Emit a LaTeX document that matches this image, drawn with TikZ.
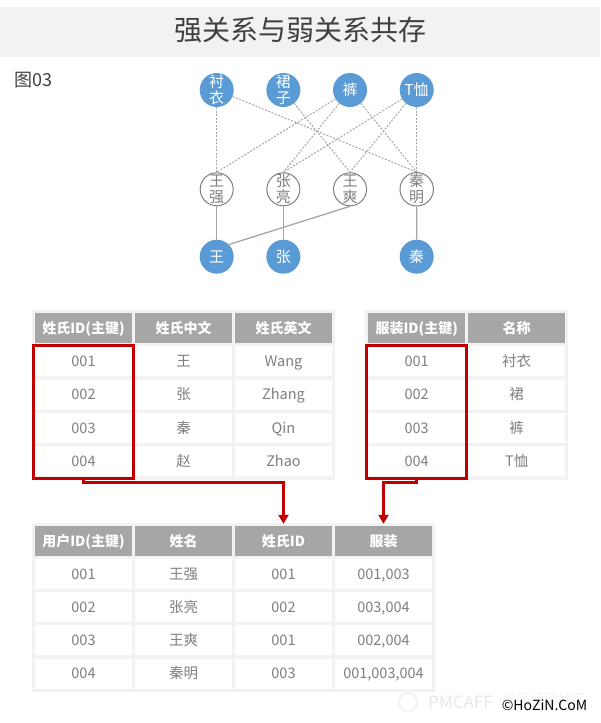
\documentclass[tikz,border=0pt]{standalone}
\usepackage{fontspec}
\setmainfont{Noto Sans CJK SC}
\usetikzlibrary{arrows.meta}
\definecolor{bandgray}{HTML}{F2F2F2}
\definecolor{headgray}{HTML}{A6A6A6}
\definecolor{textgray}{HTML}{7F7F7F}
\definecolor{titlegray}{HTML}{404040}
\definecolor{bluefill}{HTML}{5B9BD5}
\definecolor{keyred}{HTML}{C00000}
\begin{document}
\begin{tikzpicture}
[x=1pt,y=-1pt,node distance=100pt,
tabbg/.style={shape=rectangle,fill=bandgray,inner sep=0pt,outer sep=0pt},
headcell/.style={shape=rectangle,fill=headgray,text=white,font=\fontsize{14}{16}\selectfont\bfseries,minimum width=97pt,minimum height=30pt,inner sep=0pt,text height=12pt,text depth=1.4pt},
bodycell/.style={shape=rectangle,fill=white,text=textgray,font=\fontsize{14.5}{16}\selectfont,minimum width=97pt,minimum height=30pt,inner sep=0pt,text height=12pt,text depth=1.4pt},
keyframe/.style={shape=rectangle,draw=keyred,line width=3pt,minimum width=100pt,minimum height=133pt,inner sep=0pt,outer sep=0pt},
bluevertex/.style={shape=circle,fill=bluefill,text=white,minimum size=34pt,inner sep=0pt,node distance=66.67pt,align=center,font=\fontsize{15}{17}\selectfont},
uservertex/.style={shape=circle,draw=textgray,line width=1pt,fill=white,text=textgray,minimum size=33pt,inner sep=0pt,node distance=66.67pt,align=center,font=\fontsize{15}{17}\selectfont},
weakedge/.style={dashed,dash pattern=on 2pt off 1.5pt,draw=headgray,line width=1pt},
strongedge/.style={draw=headgray,line width=1.3pt},
keyedge/.style={draw=keyred,line width=3pt,-{Triangle[width=10pt,length=9pt]},shorten >=2pt}]
\useasboundingbox (0,0) rectangle (600,723);
%% title
\node (band) [shape=rectangle,fill=bandgray,minimum width=600pt,minimum height=50pt,inner sep=0pt] at (300,32) {};
\node (title) [text=titlegray,font=\fontsize{28}{30}\selectfont] at (300,30) {强关系与弱关系共存};
\node (fig) [text=titlegray,font=\fontsize{18}{20}\selectfont] at (33.5,80) {图03};
%% clothes
\node (cy) [bluevertex] at (216.7,90) {衬\\[-1pt]衣};
\node (qz) [bluevertex,right of=cy] {裙\\[-1pt]子};
\node (ku) [bluevertex,right of=qz] {裤};
\node (tx) [bluevertex,right of=ku] {T恤};
%% users
\node (wq) [uservertex] at (216.7,189.3) {王\\[-1pt]强};
\node (zl) [uservertex,right of=wq] {张\\[-1pt]亮};
\node (ws) [uservertex,right of=zl] {王\\[-1pt]爽};
\node (qm) [uservertex,right of=ws] {秦\\[-1pt]明};
%% surnames
\node (wang) [bluevertex] at (216.7,256.7) {王};
\node (zhang) [bluevertex,right of=wang] {张};
\node (qin) [bluevertex] at (416.7,256.7) {秦};
%%
\draw[weakedge] (cy) -- (wq.north);
\draw[weakedge] (cy) -- (qm.north);
\draw[weakedge] (qz) -- (ws.north);
\draw[weakedge] (ku) -- (wq.north);
\draw[weakedge] (ku) -- (zl.north);
\draw[weakedge] (ku) -- (qm.north);
\draw[weakedge] (tx) -- (zl.north);
\draw[weakedge] (tx) -- (ws.north);
\draw[weakedge] (tx) -- (qm.north);
\draw[strongedge] (wq) -- (wang);
\draw[strongedge] (zl) -- (zhang);
\draw[strongedge] (qm) -- (qin);
\draw[strongedge] (ws.south) -- (wang.north east);
%% surname table
\node (bga) [tabbg,minimum width=303pt,minimum height=170pt] at (183.5,395) {};
\node (a11) [headcell] at (83.5,328) {姓氏ID(主键)};
\node (a12) [headcell,right of=a11] {姓氏中文};
\node (a13) [headcell,right of=a12] {姓氏英文};
\node (a21) [bodycell] at (83.5,361) {001};
\node (a22) [bodycell,right of=a21] {王};
\node (a23) [bodycell,right of=a22] {Wang};
\node (a31) [bodycell] at (83.5,394.5) {002};
\node (a32) [bodycell,right of=a31] {张};
\node (a33) [bodycell,right of=a32] {Zhang};
\node (a41) [bodycell] at (83.5,427.8) {003};
\node (a42) [bodycell,right of=a41] {秦};
\node (a43) [bodycell,right of=a42] {Qin};
\node (a51) [bodycell] at (83.5,461) {004};
\node (a52) [bodycell,right of=a51] {赵};
\node (a53) [bodycell,right of=a52] {Zhao};
%% clothes table
\node (bgb) [tabbg,minimum width=202.7pt,minimum height=170pt] at (466.3,395) {};
\node (b11) [headcell] at (416.7,328) {服装ID(主键)};
\node (b12) [headcell,right of=b11] {名称};
\node (b21) [bodycell] at (416.7,361) {001};
\node (b22) [bodycell,right of=b21] {衬衣};
\node (b31) [bodycell] at (416.7,394.5) {002};
\node (b32) [bodycell,right of=b31] {裙};
\node (b41) [bodycell] at (416.7,427.8) {003};
\node (b42) [bodycell,right of=b41] {裤};
\node (b51) [bodycell] at (416.7,461) {004};
\node (b52) [bodycell,right of=b51] {T恤};
%% user table
\node (bgc) [tabbg,minimum width=403pt,minimum height=169pt] at (233.5,607.5) {};
\node (c11) [headcell] at (83.5,541) {用户ID(主键)};
\node (c12) [headcell,right of=c11] {姓名};
\node (c13) [headcell,right of=c12] {姓氏ID};
\node (c14) [headcell,right of=c13] {服装};
\node (c21) [bodycell] at (83.5,574) {001};
\node (c22) [bodycell,right of=c21] {王强};
\node (c23) [bodycell,right of=c22] {001};
\node (c24) [bodycell,right of=c23] {001,003};
\node (c31) [bodycell] at (83.5,607) {002};
\node (c32) [bodycell,right of=c31] {张亮};
\node (c33) [bodycell,right of=c32] {002};
\node (c34) [bodycell,right of=c33] {003,004};
\node (c41) [bodycell] at (83.5,640.3) {003};
\node (c42) [bodycell,right of=c41] {王爽};
\node (c43) [bodycell,right of=c42] {001};
\node (c44) [bodycell,right of=c43] {002,004};
\node (c51) [bodycell] at (83.5,673.5) {004};
\node (c52) [bodycell,right of=c51] {秦明};
\node (c53) [bodycell,right of=c52] {003};
\node (c54) [bodycell,right of=c53] {001,003,004};
%% primary keys
\node (keya) [keyframe] at (83.5,411.5) {};
\node (keyb) [keyframe] at (416.3,411.5) {};
\draw[keyedge] (keya.south) -- ++(0,4) -| (c13.north);
\draw[keyedge] (keyb.south) -- ++(0,4) -| (c14.north);
%% watermark
\node (logo) [shape=circle,draw=bandgray,line width=2pt,minimum size=18pt,inner sep=0pt] at (408,702) {};
\node (pm) [text=bandgray!90!gray,font=\fontsize{17}{19}\selectfont] at (460.5,702) {PMCAFF};
\node (pmcn) [text=bandgray,font=\fontsize{14}{16}\selectfont] at (544,699) {产品经理社区};
\node (mark) [text=black,font=\fontsize{14}{16}\selectfont] at (544.5,705) {©HoZiN.CoM};
\end{tikzpicture}
\end{document}
